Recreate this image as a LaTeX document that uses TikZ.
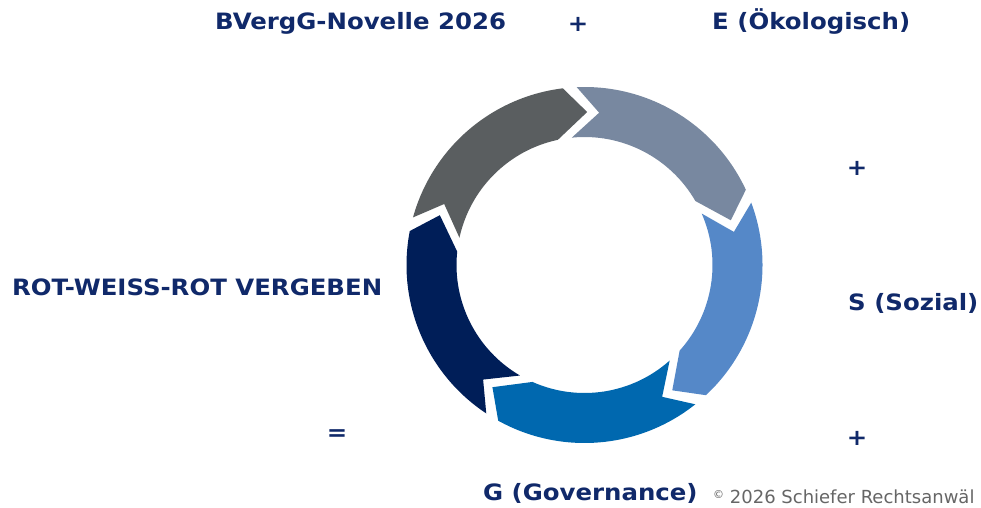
\documentclass[tikz,border=0pt]{standalone}
\usepackage{fontspec}
\setmainfont{DejaVu Sans}
\newfontfamily\vb[FakeStretch=1.085]{DejaVu Sans}
\definecolor{txt}{HTML}{10296A}
\definecolor{cgray}{HTML}{5A5E60}
\definecolor{cslate}{HTML}{7888A0}
\definecolor{clight}{HTML}{5588C8}
\definecolor{cblue}{HTML}{0068AF}
\definecolor{cnavy}{HTML}{001E58}
\definecolor{ccopy}{HTML}{666666}
\tikzset{
  lbl/.style={inner sep=0pt, text=txt, font=\vb\bfseries\fontsize{22.5}{26}\selectfont},
  cpy/.style={inner sep=0pt, text=ccopy, font=\fontsize{18}{22}\selectfont}
}
\newcommand{\ringarrow}[2]{%
  \fill[#2] (#1+75.5:178) arc[start angle=#1+75.5, end angle=#1+8, radius=178]
    -- (#1:153) -- (#1+13:128)
    arc[start angle=#1+13, end angle=#1+78.7, radius=128]
    -- (#1+67.5:153) -- cycle;}
\begin{document}
\begin{tikzpicture}[x=1pt,y=1pt]
\clip (0,0) rectangle (981,507);
\fill[white] (0,0) rectangle (981,507);
\begin{scope}[shift={(584.5,242)}]
  \ringarrow{89}{cgray}
  \ringarrow{17}{cslate}
  \ringarrow{-55}{clight}
  \ringarrow{-127}{cblue}
  \ringarrow{161}{cnavy}
\end{scope}
\node[lbl, anchor=base west] (bv) at (215,477) {BVergG-Novelle 2026};
\node[lbl] (p1) at (578,483) {+};
\node[lbl, anchor=base west] (e) at (712,477) {E (Ökologisch)};
\node[lbl] (p2) at (857,339) {+};
\node[lbl, anchor=base west] (s) at (848,197) {S (Sozial)};
\node[lbl] (p3) at (857,69) {+};
\node[lbl, anchor=base west] (g) at (483,7) {G (Governance)};
\node[lbl] (eq) at (337,72) {=};
\node[lbl, anchor=base west] (rot) at (12,212) {ROT-WEISS-ROT VERGEBEN};
\node[cpy, anchor=base west] (c) at (713,4) {\raisebox{0.5ex}{\fontsize{11}{12}\selectfont ©} 2026 Schiefer Rechtsanwäl};
\end{tikzpicture}
\end{document}
